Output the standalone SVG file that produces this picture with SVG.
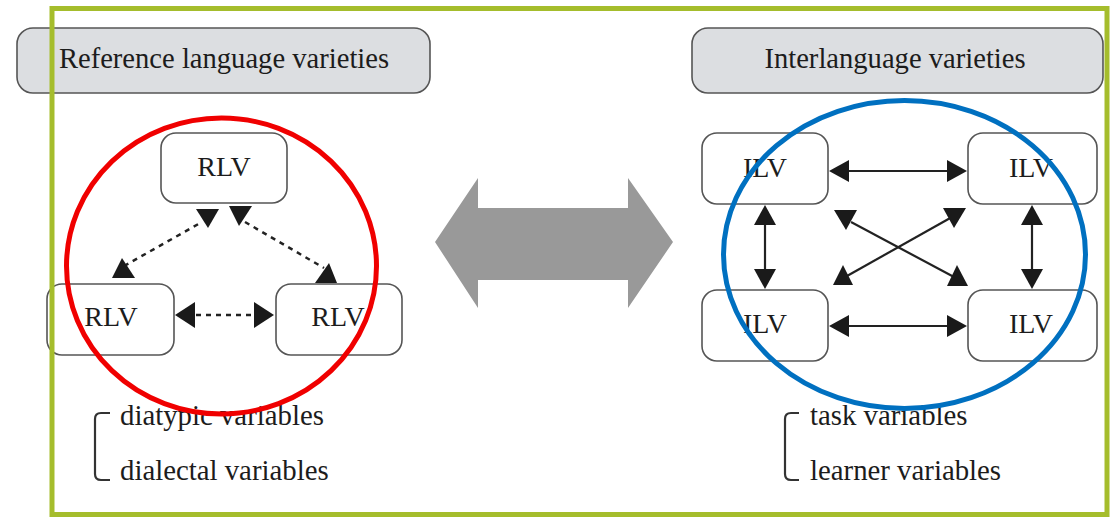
<svg xmlns="http://www.w3.org/2000/svg" width="1117" height="517" viewBox="0 0 1117 517">
  <style>
    .hdr { fill: #dcdee1; stroke: #555; stroke-width: 1.6; }
    .node { fill: #fff; stroke: #555; stroke-width: 1.6; }
    .lbl { font-family: "Liberation Serif", "Times New Roman", serif; fill: #1c1c1c; }
    .t-hdr { font-size: 28.6px; text-anchor: middle; }
    .t-node { font-size: 28px; text-anchor: middle; }
    .t-var { font-size: 28.8px; }
    .dash { stroke: #222; stroke-width: 2.5; stroke-dasharray: 5 5; fill: none; }
    .solid { stroke: #222; stroke-width: 2.2; fill: none; }
    .head { fill: #1a1a1a; }
    .brace { stroke: #333; stroke-width: 2.2; fill: none; }
  </style>

  <rect width="1117" height="517" fill="#fff"/>

  <!-- section headers -->
  <g id="hdr-reference">
    <rect class="hdr" x="17" y="28" width="413" height="65" rx="16"/>
    <text class="lbl t-hdr" x="224" y="68">Reference language varieties</text>
  </g>
  <g id="hdr-interlanguage">
    <rect class="hdr" x="692" y="28" width="411" height="65" rx="16"/>
    <text class="lbl t-hdr" x="895" y="68">Interlanguage varieties</text>
  </g>

  <!-- reference varieties -->
  <g id="rlv-top">
    <rect class="node" x="161" y="133" width="126" height="70" rx="15"/>
    <text class="lbl t-node" x="224" y="176">RLV</text>
  </g>
  <g id="rlv-left">
    <rect class="node" x="47" y="284" width="127" height="71" rx="15"/>
    <text class="lbl t-node" x="111" y="326">RLV</text>
  </g>
  <g id="rlv-right">
    <rect class="node" x="276" y="284" width="126" height="71" rx="15"/>
    <text class="lbl t-node" x="338" y="326">RLV</text>
  </g>

  <!-- interlanguage varieties -->
  <g id="ilv-tl">
    <rect class="node" x="702" y="133" width="126" height="71" rx="15"/>
    <text class="lbl t-node" x="765" y="177">ILV</text>
  </g>
  <g id="ilv-tr">
    <rect class="node" x="968" y="133" width="129" height="71" rx="15"/>
    <text class="lbl t-node" x="1031" y="177">ILV</text>
  </g>
  <g id="ilv-bl">
    <rect class="node" x="702" y="290" width="126" height="71" rx="15"/>
    <text class="lbl t-node" x="765" y="333">ILV</text>
  </g>
  <g id="ilv-br">
    <rect class="node" x="968" y="290" width="129" height="71" rx="15"/>
    <text class="lbl t-node" x="1031" y="333">ILV</text>
  </g>

  <!-- connectors -->
  <g id="connectors">
    <!-- dashed links between reference varieties -->
    <line class="dash" x1="124" y1="266" x2="202" y2="222"/>
    <polygon class="head" points="196,209 219,209 208,228"/>
    <polygon class="head" points="112,278 135,278 122,258"/>

    <line class="dash" x1="245" y1="222" x2="324" y2="268"/>
    <polygon class="head" points="229,206 252,206 239,226"/>
    <polygon class="head" points="315,283 337,283 329,263"/>

    <line class="dash" x1="196" y1="315" x2="254" y2="315"/>
    <polygon class="head" points="175,315 195,302 195,328"/>
    <polygon class="head" points="274,315 254,302 254,328"/>

    <!-- solid links between interlanguage varieties -->
    <line class="solid" x1="846" y1="171" x2="950" y2="171"/>
    <polygon class="head" points="829,171 849,160 849,182"/>
    <polygon class="head" points="967,171 947,160 947,182"/>

    <line class="solid" x1="846" y1="326" x2="950" y2="326"/>
    <polygon class="head" points="829,326 849,315 849,337"/>
    <polygon class="head" points="967,326 947,315 947,337"/>

    <line class="solid" x1="765" y1="222" x2="765" y2="272"/>
    <polygon class="head" points="765,205 754,225 776,225"/>
    <polygon class="head" points="765,289 754,269 776,269"/>

    <line class="solid" x1="1032" y1="222" x2="1032" y2="272"/>
    <polygon class="head" points="1032,205 1021,225 1043,225"/>
    <polygon class="head" points="1032,289 1021,269 1043,269"/>

    <line class="solid" x1="851" y1="222" x2="954" y2="277"/>
    <polygon class="head" points="834,210 857,210 846,230"/>
    <polygon class="head" points="947,286 968,286 957,265"/>

    <line class="solid" x1="847" y1="276" x2="952" y2="217"/>
    <polygon class="head" points="943,208 966,208 954,228"/>
    <polygon class="head" points="833,285 853,285 843,265"/>
  </g>

  <!-- variable lists -->
  <g id="vars-reference">
    <path class="brace" d="M110,413 H101 Q95,413 95,419 V474 Q95,480 101,480 H110"/>
    <text class="lbl t-var" x="120" y="425">diatypic variables</text>
    <text class="lbl t-var" x="120" y="480">dialectal variables</text>
  </g>
  <g id="vars-interlanguage">
    <path class="brace" d="M799,413 H791 Q785,413 785,419 V474 Q785,480 791,480 H799"/>
    <text class="lbl t-var" x="810" y="425">task variables</text>
    <text class="lbl t-var" x="810" y="480">learner variables</text>
  </g>

  <!-- double-headed block arrow between the two sides -->
  <g id="block-arrow">
    <polygon fill="#999" points="435,242 478,178 478,208 628,208 628,178 673,242 628,308 628,280 478,280 478,308"/>
  </g>

  <!-- outer frame -->
  <rect x="52" y="8.5" width="1055" height="506" fill="none" stroke="#a5bd2c" stroke-width="5"/>

  <!-- highlight rings -->
  <ellipse cx="221.5" cy="266" rx="155" ry="148" fill="none" stroke="#f00000" stroke-width="5"/>
  <ellipse cx="904.5" cy="254.5" rx="181" ry="154" fill="none" stroke="#0070c0" stroke-width="5"/>
</svg>
